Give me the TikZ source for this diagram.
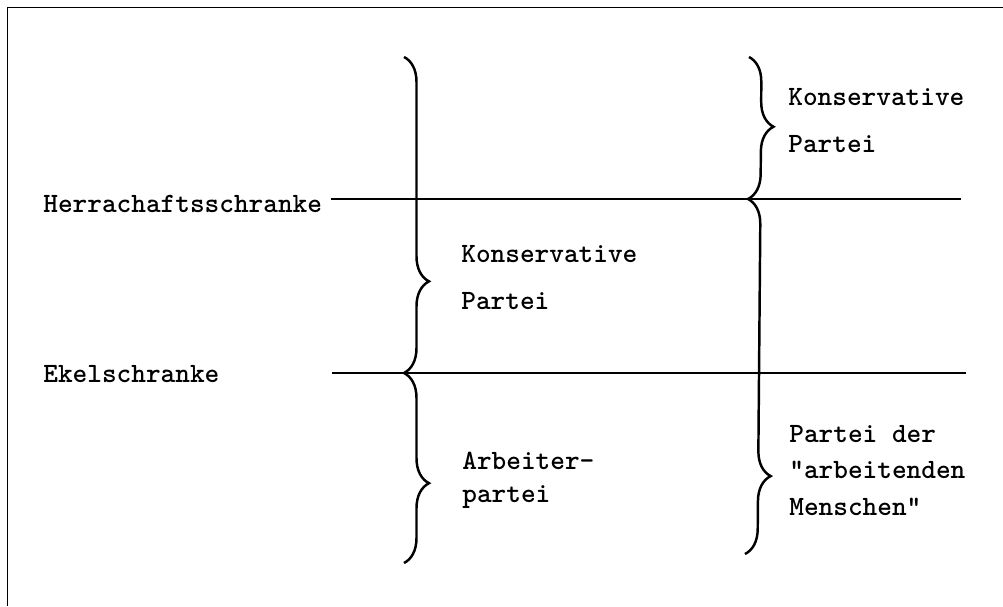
\documentclass[tikz,border=0pt]{standalone}
\usepackage{fontspec}
\usetikzlibrary{decorations.pathreplacing}

\begin{document}
\begin{tikzpicture}[
    lbl/.style={font=\ttfamily\bfseries\fontsize{15.9}{20}\selectfont, anchor=base west, inner sep=0pt, align=left},
    schranke/.style={line width=1.6pt},
    klammer/.style={line width=1.4pt, decorate, decoration={brace, amplitude=0.5cm, aspect=#1}}
  ]
  \useasboundingbox (0,0) rectangle (20.06,12.12);

  % Rahmen (nur links und oben)
  \draw[line width=1.1pt] (0.15,0) -- (0.15,11.97) -- (20.06,11.97);

  % Schranken
  \node[lbl] (herr) at (0.86,7.86) {Herrachaftsschranke};
  \node[lbl] (ekel) at (0.86,4.46) {Ekelschranke};
  \coordinate (h1) at (6.62,8.14);
  \coordinate (h2) at (19.22,8.14);
  \coordinate (e1) at (6.64,4.66);
  \coordinate (e2) at (19.32,4.66);
  \draw[schranke] (h1) -- (h2);
  \draw[schranke] (e1) -- (e2);

  % linke Klammern
  \coordinate (l1) at (8.08,10.98);
  \coordinate (l2) at (8.08,4.66);
  \coordinate (l3) at (8.08,0.86);
  \draw[klammer=0.71] (l1) -- (l2);
  \draw[klammer=0.58] (l2) -- (l3);
  \node[lbl] (konsmitte) at (9.22,5.92) {Konservative\\[7.3pt]Partei};
  \node[lbl] (arbeiter) at (9.24,2.08) {Arbeiter-\\[-1.5pt]partei};

  % rechte Klammern
  \coordinate (r1) at (14.98,10.98);
  \coordinate (r2) at (14.96,8.14);
  \coordinate (r3) at (14.90,1.04);
  \draw[klammer=0.49] (r1) -- (r2);
  \draw[klammer=0.78] (r2) -- (r3);
  \node[lbl] (konsoben) at (15.76,9.06) {Konservative\\[7.3pt]Partei};
  \node[lbl] (menschen) at (15.78,1.82) {Partei der\\[0.5pt]"arbeitenden\\[0.5pt]Menschen"};
\end{tikzpicture}
\end{document}
